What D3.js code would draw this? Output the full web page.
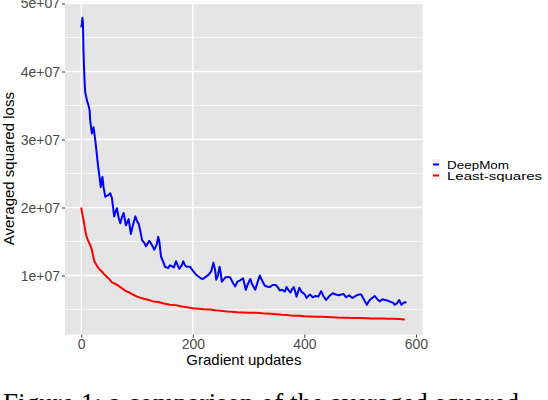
<!DOCTYPE html>
<html>
<head>
<meta charset="utf-8">
<title>DeepMom vs Least-squares</title>
<script src="https://d3js.org/d3.v7.min.js"></script>
<style>
    body{ margin:0; background:#fff; }
    svg{ display:block; }
</style>
</head>
<body>
<div id="chart"></div>
<script>
// gradient updates and averaged squared loss
var deepmomX = [0,1,2,3,4,5,6,7,10,13,15,16,19,22,25,27,30,32,35,38,40,43,48,52,55,59,62,64,67,70,73,76,80,85,89,92,97,100,103,106,109,113,116,122,126,131,135,138,140,143,147,150,156,159,162,166,170,173,176,180,183,186,189,195,201,205,210,214,218,223,228,233,237,240,242,245,248,250,252,258,263,267,272,276,280,285,290,293,295,299,303,307,312,316,320,324,329,333,338,343,349,353,356,360,365,368,372,375,378,381,384,386,391,395,401,404,407,410,415,420,425,430,434,439,445,451,456,462,470,475,480,486,492,497,502,506,512,516,520,526,530,535,540,545,550,555,559,562,566,570,574,578,583];
var deepmomY = [4.65,4.70,4.79,4.72,4.31,4.05,3.85,3.70,3.58,3.50,3.43,3.28,3.09,3.18,3.00,2.85,2.62,2.50,2.30,2.45,2.30,2.16,2.18,2.21,2.14,1.87,1.95,1.99,1.85,1.77,1.86,1.92,1.74,1.83,1.61,1.72,1.87,1.80,1.76,1.65,1.52,1.48,1.43,1.51,1.46,1.38,1.45,1.57,1.50,1.28,1.20,1.13,1.11,1.15,1.14,1.12,1.21,1.15,1.10,1.15,1.21,1.15,1.13,1.13,1.06,1.02,0.985,0.96,0.95,0.98,1.01,1.06,1.19,1.08,0.94,1.00,1.13,1.04,0.91,0.97,0.98,0.97,0.89,0.84,0.91,0.93,0.96,0.86,0.79,0.88,0.95,0.86,0.79,0.90,1.00,0.93,0.85,0.84,0.83,0.86,0.86,0.82,0.78,0.79,0.765,0.83,0.78,0.75,0.80,0.83,0.75,0.69,0.82,0.76,0.72,0.67,0.70,0.72,0.68,0.70,0.69,0.77,0.70,0.64,0.70,0.74,0.72,0.71,0.73,0.68,0.71,0.67,0.70,0.72,0.72,0.66,0.57,0.63,0.66,0.70,0.66,0.62,0.65,0.64,0.63,0.61,0.60,0.57,0.59,0.64,0.57,0.60,0.61];
var lsqX = [0,2,4,6,8,10,13,16,19,21,24,27,30,34,38,42,46,50,55,60,65,70,75,80,85,90,95,100,105,112,120,129,138,148,159,170,180,190,200,210,220,231,240,250,261,270,280,290,300,310,320,330,340,350,360,370,380,390,400,410,420,430,440,450,460,470,480,490,500,510,520,530,540,550,560,570,580];
var lsqY = [2.00,1.90,1.82,1.72,1.63,1.56,1.50,1.45,1.38,1.30,1.20,1.16,1.12,1.08,1.05,1.01,0.98,0.95,0.90,0.88,0.86,0.83,0.80,0.77,0.755,0.73,0.71,0.69,0.675,0.66,0.645,0.62,0.612,0.59,0.572,0.565,0.545,0.535,0.52,0.512,0.505,0.50,0.49,0.482,0.47,0.468,0.46,0.458,0.452,0.452,0.448,0.44,0.437,0.43,0.423,0.418,0.41,0.407,0.40,0.399,0.395,0.393,0.39,0.388,0.383,0.381,0.378,0.377,0.375,0.373,0.37,0.369,0.367,0.366,0.365,0.361,0.352];
var seriesNames = ["DeepMom", "Least-squares"];
var seriesColors = ["#0000ff", "#ff0000"];
var yTicks = [1e7, 2e7, 3e7, 4e7, 5e7];
var yTickLabels = ["1e+07", "2e+07", "3e+07", "4e+07", "5e+07"];
var yMinor = [5e6, 1.5e7, 2.5e7, 3.5e7, 4.5e7];
var xTicks = [0, 200, 400, 600];
var xGrid = [0, 200];
var caption = "Figure 1: a comparison of the averaged squared";

var width = 548, height = 400;
var panel = {left: 65, right: 422.7, top: 2.7, bottom: 334.7};

var series = [
    deepmomX.map(function(x, i){ return {x: x, y: deepmomY[i] * 1e7}; }),
    lsqX.map(function(x, i){ return {x: x, y: lsqY[i] * 1e7}; })
];

// ggplot style 5% expansion
var allX = deepmomX.concat(lsqX);
var allY = series[0].concat(series[1]).map(function(d){ return d.y; });
var xe = d3.extent(allX), ye = d3.extent(allY);
var xPad = (xe[1] - xe[0]) * 0.05, yPad = (ye[1] - ye[0]) * 0.05;

var x = d3.scaleLinear().domain([xe[0] - xPad, xe[1] + xPad]).range([panel.left, panel.right]);
var y = d3.scaleLinear().domain([ye[0] - yPad, ye[1] + yPad]).range([panel.bottom, panel.top]);

var svg = d3.select("#chart").append("svg")
    .attr("width", width)
    .attr("height", height)
    .style("font-family", "'Liberation Sans', Arial, sans-serif");

svg.append("rect")
    .attr("x", panel.left).attr("y", panel.top)
    .attr("width", panel.right - panel.left)
    .attr("height", panel.bottom - panel.top)
    .attr("fill", "#e5e5e5");

var grid = svg.append("g").attr("stroke", "#fff");
grid.selectAll("line.minor").data(yMinor).enter().append("line")
    .attr("class", "minor")
    .attr("x1", panel.left).attr("x2", panel.right)
    .attr("y1", function(d){ return y(d); }).attr("y2", function(d){ return y(d); })
    .attr("stroke-width", 0.7);
grid.selectAll("line.ymajor").data(yTicks).enter().append("line")
    .attr("class", "ymajor")
    .attr("x1", panel.left).attr("x2", panel.right)
    .attr("y1", function(d){ return y(d); }).attr("y2", function(d){ return y(d); })
    .attr("stroke-width", 1.4);
grid.selectAll("line.xmajor").data(xGrid).enter().append("line")
    .attr("class", "xmajor")
    .attr("y1", panel.top).attr("y2", panel.bottom)
    .attr("x1", function(d){ return x(d); }).attr("x2", function(d){ return x(d); })
    .attr("stroke-width", 1.4);

var line = d3.line()
    .x(function(d){ return x(d.x); })
    .y(function(d){ return y(d.y); });

svg.append("g").selectAll("path")
    .data(series)
    .enter().append("path")
    .attr("d", line)
    .attr("fill", "none")
    .attr("stroke", function(d, i){ return seriesColors[i]; })
    .attr("stroke-width", 2)
    .attr("stroke-linejoin", "round");

// axes
var yAxis = svg.append("g")
    .attr("transform", "translate(" + panel.left + ",0)")
    .call(d3.axisLeft(y).tickValues(yTicks)
        .tickFormat(function(d, i){ return yTickLabels[i]; })
        .tickSize(3).tickPadding(2));
var xAxis = svg.append("g")
    .attr("transform", "translate(0," + panel.bottom + ")")
    .call(d3.axisBottom(x).tickValues(xTicks).tickSize(3).tickPadding(1));

[yAxis, xAxis].forEach(function(a){
    a.select(".domain").remove();
    a.selectAll(".tick line").attr("stroke", "#333").attr("stroke-width", 1);
    a.selectAll(".tick text")
        .attr("fill", "#4d4d4d")
        .style("font-size", "14px")
        .style("font-family", "'Liberation Sans', Arial, sans-serif");
});

svg.append("text")
    .attr("x", (panel.left + panel.right) / 2)
    .attr("y", 365)
    .attr("text-anchor", "middle")
    .style("font-size", "15px")
    .text("Gradient updates");

svg.append("text")
    .attr("transform", "translate(14," + ((panel.top + panel.bottom) / 2) + ") rotate(-90)")
    .attr("text-anchor", "middle")
    .style("font-size", "15px")
    .text("Averaged squared loss");

// legend
var legend = svg.append("g").attr("transform", "translate(432,159)");
var item = legend.selectAll("g")
    .data(seriesNames)
    .enter().append("g")
    .attr("transform", function(d, i){ return "translate(0," + (i * 11) + ")"; });
item.append("rect")
    .attr("width", 8).attr("height", 10)
    .attr("fill", "#f0f0f0");
item.append("line")
    .attr("x1", 1).attr("x2", 7).attr("y1", 5.5).attr("y2", 5.5)
    .attr("stroke", function(d, i){ return seriesColors[i]; })
    .attr("stroke-width", 2);
item.append("text")
    .attr("x", 15).attr("y", 9.5)
    .style("font-size", "11px")
    .attr("textLength", function(d, i){ return i === 0 ? 62 : 95; })
    .attr("lengthAdjust", "spacingAndGlyphs")
    .text(function(d){ return d; });

// caption below the figure (cut off by the frame)
svg.append("text")
    .attr("x", 3)
    .attr("y", 412)
    .style("font-family", "'Liberation Serif', 'Times New Roman', serif")
    .style("font-size", "27px")
    .attr("textLength", 516)
    .attr("lengthAdjust", "spacing")
    .text(caption);
</script>
</body>
</html>
